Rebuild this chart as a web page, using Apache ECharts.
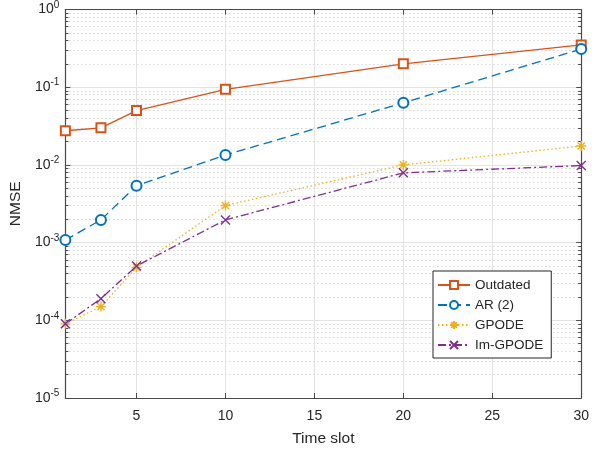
<!DOCTYPE html>
<html>
<head>
<meta charset="utf-8">
<script src="https://cdn.jsdelivr.net/npm/echarts@6/dist/echarts.min.js"></script>
<style>
  html, body { margin: 0; padding: 0; background: #fff; }
  #chart { width: 592px; height: 452px; }
</style>
</head>
<body>
<div id="chart"></div>
<script>
// time slots and NMSE values
const timeSlots = [1, 3, 5, 10, 20, 30]
const outdated = [0.0275, 0.030, 0.050, 0.094, 0.20, 0.35]
const ar2 = [0.00108, 0.00196, 0.0054, 0.0134, 0.063, 0.31]
const gpode = [0.00009, 0.00015, 0.00048, 0.0030, 0.0100, 0.0175]
const imGpode = [0.00009, 0.00019, 0.00050, 0.00196, 0.0079, 0.0098]
const xTicks = [5, 10, 15, 20, 25, 30]

const FONT = 'Liberation Sans, Arial, Helvetica, sans-serif'
const INK = '#262626'
const AXIS = '#4a4a4a'

const asterisk = 'path://M0,-5L0,5M-5,0L5,0M-3.6,-3.6L3.6,3.6M-3.6,3.6L3.6,-3.6'
const cross = 'path://M-4,-4L4,4M-4,4L4,-4'

function pairs (ys) {
  return timeSlots.map((x, i) => [x, ys[i]])
}

// log decades and the 2..9 x 10^k positions between them
const majorVals = []
const minorVals = []
for (let k = -5; k <= 0; k++) {
  majorVals.push(Math.pow(10, k))
  if (k < 0) {
    for (let m = 2; m <= 9; m++) minorVals.push(m * Math.pow(10, k))
  }
}

function sup (v) {
  const e = Math.round(Math.log10(v))
  return '{b|10}{s|' + e + '}'
}

const chart = echarts.init(document.getElementById('chart'))

const xBase = {
  type: 'value',
  min: 1,
  max: 30,
  axisLine: { show: true, lineStyle: { color: AXIS, width: 1.2 } },
  axisTick: { show: true, inside: true, length: 5, customValues: xTicks, lineStyle: { color: AXIS } },
  axisLabel: { show: true, customValues: xTicks, color: INK, fontFamily: FONT, fontSize: 14, margin: 11 },
  splitLine: { show: false }
}

const yBase = {
  type: 'log',
  logBase: 10,
  min: 1e-5,
  max: 1,
  interval: 1,
  axisLine: { show: true, lineStyle: { color: AXIS, width: 1.2 } },
  axisTick: { show: true, inside: true, length: 5, lineStyle: { color: AXIS } },
  splitLine: { show: false }
}

chart.setOption({
  animation: false,
  backgroundColor: '#fff',
  grid: { left: 64, right: 8, top: 7, bottom: 54 },
  xAxis: [
    Object.assign({}, xBase, {
      position: 'bottom',
      name: 'Time slot',
      nameLocation: 'middle',
      nameGap: 33,
      nameTextStyle: { color: INK, fontFamily: FONT, fontSize: 15.5 },
      splitLine: { show: true, lineStyle: { color: '#e3e3e3', width: 1 } }
    }),
    Object.assign({}, xBase, {
      position: 'top',
      axisLabel: { show: false, customValues: xTicks }
    })
  ],
  yAxis: [
    Object.assign({}, yBase, {
      position: 'left',
      name: 'NMSE',
      nameLocation: 'middle',
      nameGap: 41,
      nameTextStyle: { color: INK, fontFamily: FONT, fontSize: 15.5 },
      splitLine: { show: true, lineStyle: { color: '#e3e3e3', width: 1 } },
      axisLabel: {
        color: INK,
        fontFamily: FONT,
        margin: 6,
        formatter: sup,
        rich: {
          b: { fontSize: 14, fontFamily: FONT, color: INK },
          s: { fontSize: 10, fontFamily: FONT, color: INK, verticalAlign: 'bottom', padding: [0, 0, 9, 0] }
        }
      }
    }),
    // minor ticks on the left plus the dotted minor grid
    Object.assign({}, yBase, {
      position: 'left',
      axisLine: { show: false },
      axisLabel: { show: false },
      axisTick: { show: true, inside: true, length: 3, customValues: minorVals, lineStyle: { color: AXIS } },
      splitLine: { show: true, lineStyle: { color: '#c4c4c4', width: 1, type: [1, 3] } }
    }),
    Object.assign({}, yBase, {
      position: 'right',
      axisLabel: { show: false },
      axisTick: { show: true, inside: true, length: 5, lineStyle: { color: AXIS } }
    }),
    Object.assign({}, yBase, {
      position: 'right',
      axisLine: { show: false },
      axisLabel: { show: false },
      axisTick: { show: true, inside: true, length: 3, customValues: minorVals, lineStyle: { color: AXIS } }
    })
  ],
  legend: {
    orient: 'vertical',
    left: 433,
    top: 271,
    width: 115,
    padding: [7, 8, 6, 4],
    itemGap: 6,
    itemWidth: 32,
    itemHeight: 10,
    backgroundColor: '#fff',
    borderColor: INK,
    borderWidth: 1,
    borderRadius: 0,
    textStyle: { color: INK, fontFamily: FONT, fontSize: 13.5 },
    data: ['Outdated', 'AR (2)', 'GPODE', 'Im-GPODE']
  },
  series: [
    {
      name: 'Outdated',
      type: 'line',
      data: pairs(outdated),
      color: '#D95319',
      symbol: 'emptyRect',
      symbolSize: 9,
      lineStyle: { width: 1.3, type: 'solid' },
      itemStyle: { borderWidth: 1.3 }
    },
    {
      name: 'AR (2)',
      type: 'line',
      data: pairs(ar2),
      color: '#0072BD',
      symbol: 'emptyCircle',
      symbolSize: 10,
      lineStyle: { width: 1.3, type: [9, 5] },
      itemStyle: { borderWidth: 1.3 }
    },
    {
      name: 'GPODE',
      type: 'line',
      data: pairs(gpode),
      color: '#EDB120',
      symbol: asterisk,
      symbolSize: 10,
      lineStyle: { color: '#EDB120', width: 1.3, type: [1.5, 2.5] },
      itemStyle: { color: 'none', borderColor: '#EDB120', borderWidth: 1.4 }
    },
    {
      name: 'Im-GPODE',
      type: 'line',
      data: pairs(imGpode),
      color: '#7E2F8E',
      symbol: cross,
      symbolSize: 9,
      lineStyle: { color: '#7E2F8E', width: 1.3, type: [8, 3, 2, 3] },
      itemStyle: { color: 'none', borderColor: '#7E2F8E', borderWidth: 1.4 }
    }
  ]
})
</script>
</body>
</html>
